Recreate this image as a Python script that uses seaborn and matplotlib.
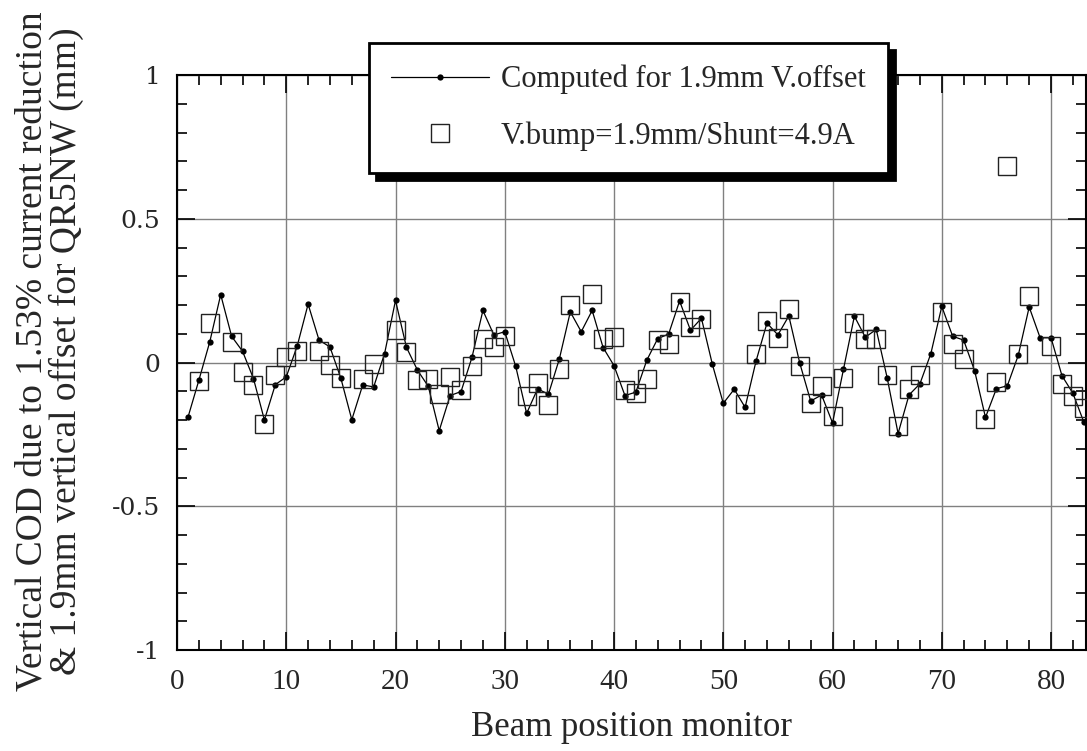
import numpy as np
import pandas as pd
import matplotlib
matplotlib.use("Agg")
import matplotlib.pyplot as plt
import seaborn as sns
from matplotlib.lines import Line2D
from matplotlib.ticker import MultipleLocator

# ---- data ----
bpm_computed = list(range(1, 84))
computed = [-0.191, -0.062, 0.072, 0.236, 0.091, 0.039, -0.056, -0.200, -0.077, -0.050,
            0.057, 0.203, 0.078, 0.054, -0.055, -0.199, -0.078, -0.085, 0.031, 0.216,
            0.053, -0.026, -0.083, -0.237, -0.115, -0.101, 0.018, 0.181, 0.096, 0.107,
            -0.013, -0.177, -0.092, -0.110, 0.013, 0.176, 0.107, 0.181, 0.052, -0.011,
            -0.115, -0.103, 0.008, 0.083, 0.099, 0.214, 0.112, 0.154, -0.006, -0.142,
            -0.093, -0.156, 0.005, 0.137, 0.096, 0.162, -0.002, -0.134, -0.113, -0.210,
            -0.024, 0.161, 0.088, 0.115, -0.053, -0.247, -0.113, -0.074, 0.031, 0.195,
            0.091, 0.078, -0.028, -0.191, -0.091, -0.081, 0.025, 0.193, 0.086, 0.086,
            -0.046, -0.107, -0.207]

bpm_measured = [2, 3, 5, 6, 7, 8, 9, 10, 11, 13, 14, 15, 17, 18, 20, 21, 22, 23, 24, 25,
                26, 27, 28, 29, 30, 32, 33, 34, 35, 36, 38, 39, 40, 41, 42, 43, 44, 45, 46, 47,
                48, 52, 53, 54, 55, 56, 57, 58, 59, 60, 61, 62, 63, 64, 65, 66, 67, 68, 70, 71,
                72, 74, 75, 76, 77, 78, 80, 81, 82, 83]
measured = [-0.066, 0.139, 0.070, -0.034, -0.078, -0.214, -0.042, 0.020, 0.039, 0.039,
            -0.009, -0.055, -0.057, -0.005, 0.112, 0.036, -0.060, -0.058, -0.111, -0.050,
            -0.095, -0.013, 0.083, 0.054, 0.091, -0.115, -0.070, -0.149, -0.024, 0.200,
            0.237, 0.081, 0.090, -0.094, -0.105, -0.057, 0.078, 0.064, 0.210, 0.122,
            0.150, -0.144, 0.028, 0.145, 0.086, 0.187, -0.013, -0.142, -0.081, -0.185,
            -0.053, 0.136, 0.083, 0.081, -0.045, -0.220, -0.092, -0.042, 0.177, 0.064,
            0.013, -0.197, -0.069, 0.683, 0.031, 0.231, 0.059, -0.074, -0.118, -0.158]

label_computed = "Computed for 1.9mm V.offset"
label_measured = "V.bump=1.9mm/Shunt=4.9A"
x_label = "Beam position monitor"
y_label = "Vertical COD due to 1.53% current reduction\n& 1.9mm vertical offset for QR5NW (mm)"
x_ticks = [0, 10, 20, 30, 40, 50, 60, 70, 80]
y_ticks = [-1, -0.5, 0, 0.5, 1]
y_tick_labels = ["-1", "-0.5", "0", "0.5", "1"]

df_c = pd.DataFrame({"bpm": bpm_computed, "cod": computed})
df_m = pd.DataFrame({"bpm": bpm_measured, "cod": measured})

sns.set_theme(style="ticks")
plt.rcParams["font.family"] = ["Liberation Serif", "DejaVu Serif"]

fig = plt.figure(figsize=(10.87, 7.51), dpi=100)
ax = fig.add_axes([177 / 1087, 1 - 650 / 751, (1086 - 177) / 1087, (650 - 75) / 751])

sns.lineplot(data=df_c, x="bpm", y="cod", ax=ax, color="black", linewidth=0.9,
             marker="o", markersize=4.5, markeredgewidth=0, markerfacecolor="black",
             zorder=4, legend=False)
ax.plot(df_m["bpm"], df_m["cod"], linestyle="none", marker="s", markersize=12.5,
        markerfacecolor="none", markeredgecolor="#222222", markeredgewidth=1.0, zorder=5)

ax.set_xlim(0, 83.2)
ax.set_ylim(-1, 1)
ax.xaxis.set_major_locator(MultipleLocator(10))
ax.xaxis.set_minor_locator(MultipleLocator(2))
ax.yaxis.set_minor_locator(MultipleLocator(0.1))
ax.set_xticks(x_ticks)
ax.set_yticks(y_ticks)
ax.set_yticklabels(y_tick_labels, fontfamily="DejaVu Serif", fontsize=18)
for t in ax.get_xticklabels():
    t.set_fontsize(21)
ax.grid(True, which="major", color="#808080", linewidth=1.0)
ax.set_axisbelow(True)
ax.tick_params(which="both", direction="in", top=True, right=True, color="black")
ax.tick_params(axis="x", which="major", length=13, width=1.2, pad=14)
ax.tick_params(axis="y", which="major", length=13, width=1.2, pad=12)
ax.tick_params(which="minor", length=7, width=1.2)
for s in ax.spines.values():
    s.set_color("black")
    s.set_linewidth(1.5)

ax.set_xlabel(x_label, fontsize=25, labelpad=11)
ax.set_ylabel(y_label, fontsize=27, labelpad=20, linespacing=0.98)
ax.yaxis.label.set_y(0.52)

handles = [Line2D([], [], color="black", linewidth=0.9, marker="o", markersize=4.5,
                  markeredgewidth=0),
           Line2D([], [], linestyle="none", marker="s", markersize=12.5,
                  markerfacecolor="none", markeredgecolor="#222222", markeredgewidth=1.0)]
leg = fig.legend(handles, [label_computed, label_measured], loc="upper left",
                 bbox_to_anchor=(369 / 1087, 1 - 43 / 751), bbox_transform=fig.transFigure,
                 borderaxespad=0, fontsize=22, frameon=True, fancybox=False, handlelength=3.2,
                 borderpad=0.72, labelspacing=0.88, handletextpad=0.4,
                 shadow={"ox": 5, "oy": -5, "facecolor": "black", "edgecolor": "black", "alpha": 1})
leg.get_frame().set_edgecolor("black")
leg.get_frame().set_linewidth(2.0)
leg.get_frame().set_facecolor("white")
leg.get_frame().set_alpha(1)
leg.set_zorder(10)

fig.savefig("out.png", dpi=100, facecolor="white")
